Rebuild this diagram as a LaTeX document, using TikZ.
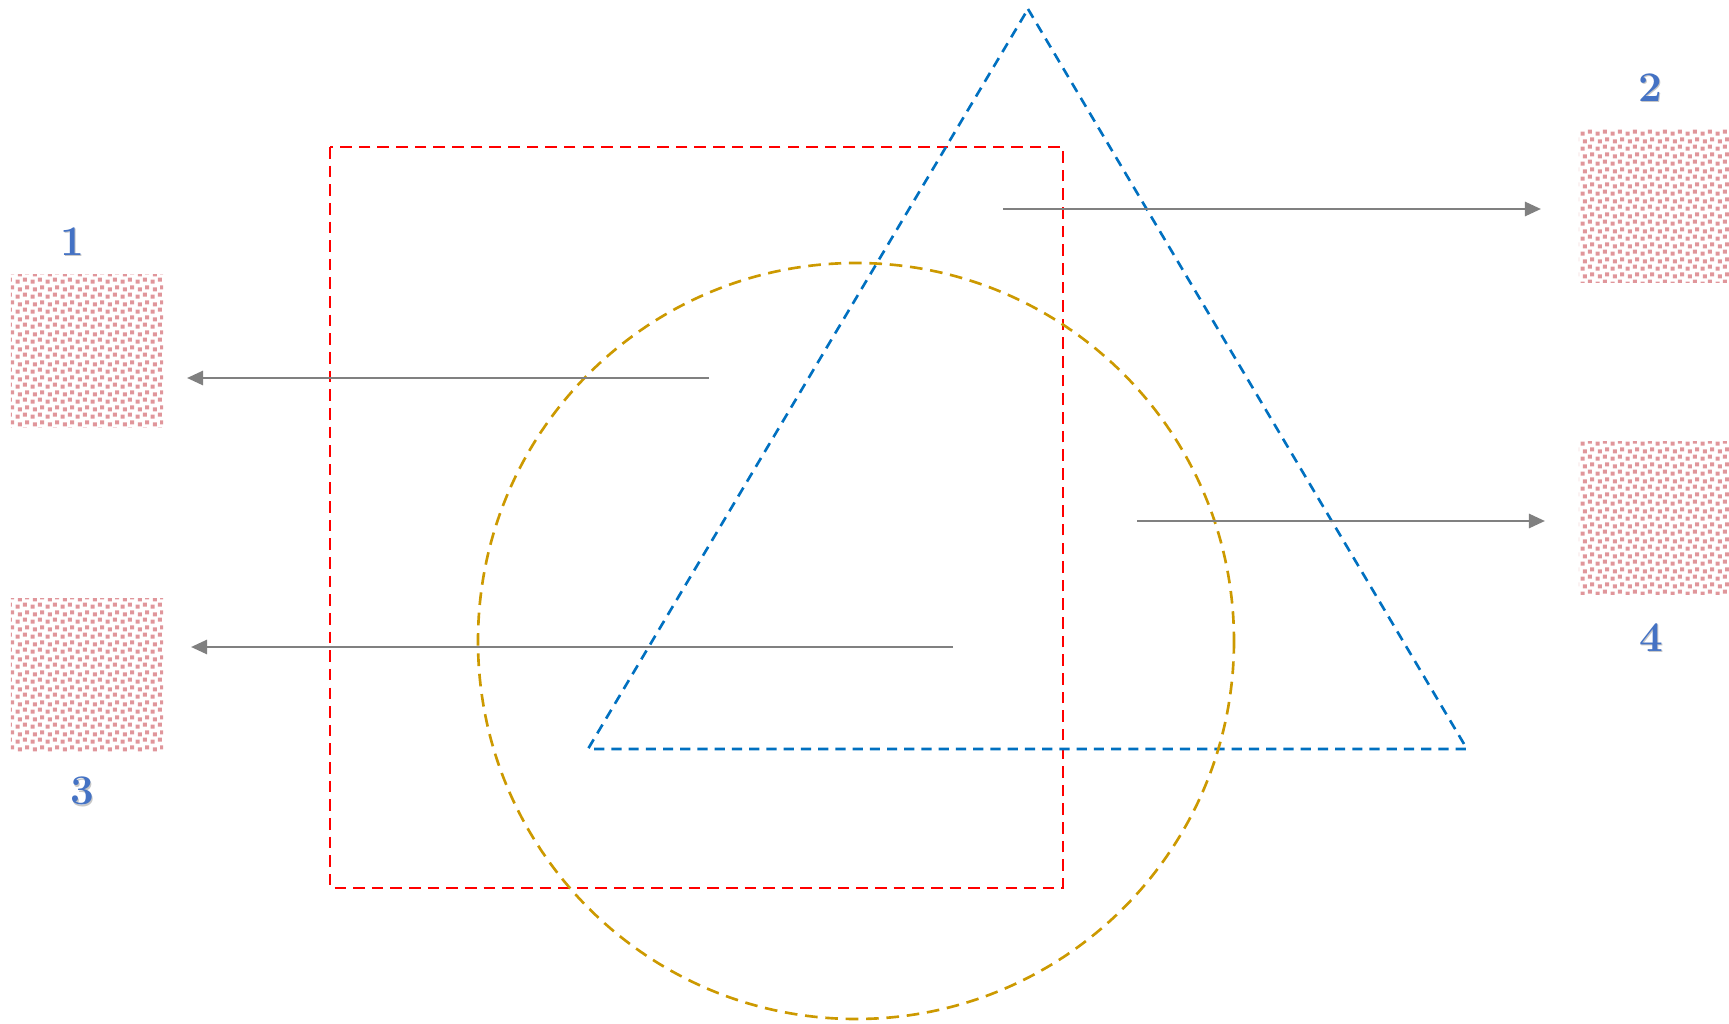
\documentclass[tikz,border=0pt]{standalone}
\usepackage{xcolor}
\usepackage{tikz}
\usetikzlibrary{arrows.meta,patterns}

\definecolor{sqred}{RGB}{255,0,0}
\definecolor{tribl}{RGB}{0,112,192}
\definecolor{circgold}{RGB}{204,153,0}
\definecolor{numblue}{RGB}{68,114,196}
\definecolor{dotpink}{RGB}{224,150,155}

\pgfdeclarepatternformonly{pinkdots}{\pgfpointorigin}{\pgfqpoint{4.2pt}{4.2pt}}{\pgfqpoint{4.2pt}{4.2pt}}{
 \pgfpathrectangle{\pgfqpoint{0.2pt}{0.1pt}}{\pgfqpoint{1.15pt}{1.15pt}}
 \pgfpathrectangle{\pgfqpoint{2.3pt}{0.7pt}}{\pgfqpoint{1.15pt}{1.15pt}}
 \pgfpathrectangle{\pgfqpoint{0.8pt}{2.2pt}}{\pgfqpoint{1.15pt}{1.15pt}}
 \pgfpathrectangle{\pgfqpoint{2.9pt}{2.8pt}}{\pgfqpoint{1.15pt}{1.15pt}}
 \pgfusepath{fill}}

\newcommand\shnum[1]{\rlap{\kern0.45pt\raisebox{-0.45pt}{\textcolor{black!22}{#1}}}#1}

\begin{document}
\begin{tikzpicture}[x=0.01cm,y=-0.01cm,
 pb/.style={pattern=pinkdots,pattern color=dotpink,minimum width=1.52cm,minimum height=1.53cm,inner sep=0pt},
 num/.style={text=numblue,font=\large\bfseries,inner sep=1pt},
 ar/.style={-{Triangle[length=1.6mm,width=1.4mm]},draw=gray,line width=0.75pt},
 sh/.style={line width=0.75pt}]
\useasboundingbox (0,0) rectangle (1729,1024);

% boxes with labels
\node[pb] (b1) at (87,351) {};
\node[pb] (b2) at (1655,206) {};
\node[pb] (b3) at (87,675) {};
\node[pb] (b4) at (1655,518) {};
\node[num] (n1) at (72,242) {\shnum{1}};
\node[num] (n2) at (1650,88) {\shnum{2}};
\node[num] (n3) at (82,792) {\shnum{3}};
\node[num] (n4) at (1651,638) {\shnum{4}};

% shapes
\coordinate (top) at (1028,9);
\coordinate (bl) at (588,749);
\coordinate (br) at (1467,749);
\draw[sh,sqred,dash pattern=on 3.3pt off 2pt] (330,147) rectangle (1063,888);
\draw[sh,tribl,dash pattern=on 2.9pt off 2pt] (top) -- (br) -- (bl) -- cycle;
\draw[sh,circgold,dash pattern=on 3.6pt off 2.2pt] (856,641) circle[radius=378];

% arrows
\coordinate (s1) at (709,378);  \coordinate (e1) at (187,378);
\coordinate (s2) at (1003,209); \coordinate (e2) at (1541,209);
\coordinate (s3) at (953,647);  \coordinate (e3) at (191,647);
\coordinate (s4) at (1137,521); \coordinate (e4) at (1545,521);
\draw[ar] (s1) -- (e1);
\draw[ar] (s2) -- (e2);
\draw[ar] (s3) -- (e3);
\draw[ar] (s4) -- (e4);
\end{tikzpicture}
\end{document}
